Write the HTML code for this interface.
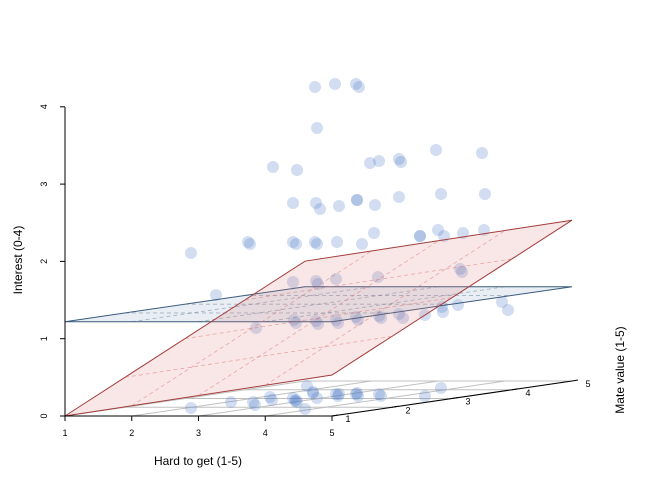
<!DOCTYPE html>
<html><head><meta charset="utf-8"><style>
html,body{margin:0;padding:0;background:#fff;}
svg{display:block;font-family:"Liberation Sans",sans-serif;}
</style></head><body>
<svg id="s" width="648" height="504" viewBox="0 0 648 504" xmlns="http://www.w3.org/2000/svg">
<g id="grid" stroke="#c0c0c0" stroke-width="1" fill="none"></g>
<g id="pts"></g>
<g id="planes"></g>
<g id="axes" stroke="#000" stroke-width="1" fill="none"></g>
<g font-size="9" fill="#000" id="ticks"></g>
<text x="198" y="465" font-size="12" text-anchor="middle">Hard to get (1-5)</text>
<text transform="translate(22,260) rotate(-90)" font-size="12" text-anchor="middle">Interest (0-4)</text>
<text transform="translate(624,370) rotate(-90)" font-size="12" text-anchor="middle">Mate value (1-5)</text>
</svg>
<script>
var NS="http://www.w3.org/2000/svg";
function P(x,y,z){return [65+(x-1)*66.75+(y-1)*60, 416-z*77.3-(y-1)*8.75];}
function el(p,t,a,txt){var e=document.createElementNS(NS,t);for(var k in a)e.setAttribute(k,a[k]);if(txt!==undefined)e.textContent=txt;document.getElementById(p).appendChild(e);return e;}
function line(p,a,b,extra){var o={x1:a[0],y1:a[1],x2:b[0],y2:b[1]};for(var k in extra)o[k]=extra[k];el(p,'line',o);}
for(var k=1;k<=5;k++){line('grid',P(1,k,0),P(5,k,0));line('grid',P(k,1,0),P(k,5,0));}
var pts=[[315,87],[335,84],[356,84],[359,87],[317,128],[273,167],[297,170],[370,163],[379,161],[399,159],[401,162],[436,150],[482,153],[357,200],[357,200],[293,203],[316,203],[320,209],[339,206],[375,205],[399,197],[441,194],[485,194],[191,253],[248,242],[250,244],[293,242],[296,244],[315,242],[317,244],[337,242],[362,244],[374,233],[420,236],[420,236],[438,230],[444,236],[463,233],[484,230],[216,295],[293,282],[316,281],[318,284],[336,279],[378,277],[460,269],[462,272],[256,328],[294,320],[296,323],[316,321],[318,324],[336,320],[338,323],[356,317],[358,320],[379,316],[381,318],[399,314],[403,318],[425,315],[442,307],[443,312],[458,305],[502,302],[508,310],
[191,408],[231,402],[253,402],[255,405],[270,397],[272,400],[293,398],[296,400],[297,402],[305,409],[307,386],[313,393],[317,398],[336,394],[338,396],[356,394],[358,396],[379,394],[381,396],[425,396],[441,388],[295,401],[313,392],[339,394],[357,393]];
pts.forEach(function(p){el('pts','circle',{cx:p[0],cy:p[1],r:6,fill:'rgba(80,125,200,0.26)'});});
function plane(f,fill,stroke,dash){
 var c=[P(1,1,f(1,1)),P(5,1,f(5,1)),P(5,5,f(5,5)),P(1,5,f(1,5))];
 el('planes','polygon',{points:c.map(function(q){return q.join(',')}).join(' '),fill:fill,stroke:stroke,'stroke-width':1});
 for(var k=2;k<=4;k++){
  line('planes',P(1,k,f(1,k)),P(5,k,f(5,k)),{stroke:dash,'stroke-width':0.8,'stroke-dasharray':'4,3'});
  line('planes',P(k,1,f(k,1)),P(k,5,f(k,5)),{stroke:dash,'stroke-width':0.8,'stroke-dasharray':'4,3'});
 }
}
plane(function(x,y){return 1.22;},'rgba(180,200,215,0.3)','#3b5a7c','rgba(80,100,130,0.45)');
plane(function(x,y){return 0.1325*(x-1)+0.3875*(y-1);},'rgba(220,120,120,0.18)','#a33a3a','rgba(220,110,110,0.55)');
line('axes',[65,107],[65,416]);
for(var z=0;z<=4;z++){var y=416-z*77.3;line('axes',[60,y],[65,y]);el('ticks','text',{transform:'translate(47,'+y+') rotate(-90)','text-anchor':'middle'},z);}
line('axes',[65,416],[332,416]);
for(var x=1;x<=5;x++){var q=P(x,1,0);line('axes',q,[q[0],q[1]+5]);el('ticks','text',{x:q[0],y:436,'text-anchor':'middle'},x);}
line('axes',P(5,1,0),P(5,5,0));
for(var k=1;k<=5;k++){var q=P(5,k,0);line('axes',q,[q[0]+6,q[1]-1]);el('ticks','text',{x:q[0]+16,y:q[1]+6,'text-anchor':'middle'},k);}
</script>
</body></html>
